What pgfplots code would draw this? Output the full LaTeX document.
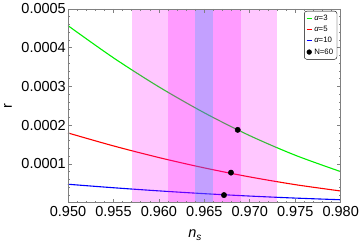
\documentclass[border=0pt]{standalone}
\usepackage{fontspec}
\setmainfont{Liberation Sans}
\usepackage{pgfplots}
\pgfplotsset{compat=1.18}
\definecolor{bandblue}{RGB}{0,176,255}
\definecolor{bandmag}{RGB}{255,0,255}
\definecolor{cgreen}{RGB}{0,240,0}
\definecolor{cred}{RGB}{255,0,0}
\definecolor{cblue}{RGB}{0,0,255}
\begin{document}
\begin{tikzpicture}
\useasboundingbox (-68pt,-42.3pt) rectangle (292pt,202.7pt);
\begin{axis}[
  at={(0,0)}, anchor=south west,
  scale only axis, width=272.7pt, height=193.7pt,
  xmin=0.95, xmax=0.98, ymin=0, ymax=0.0005,
  axis on top,
  tick align=inside,
  major tick length=4pt, minor tick length=2pt,
  axis line style={black!50, line width=0.9pt},
  every tick/.style={black!50, line width=0.6pt},
  scaled x ticks=false, scaled y ticks=false,
  xtick={0.95,0.955,0.96,0.965,0.97,0.975,0.98},
  minor xtick={0.951,0.952,0.953,0.954,0.956,0.957,0.958,0.959,0.961,0.962,0.963,0.964,0.966,0.967,0.968,0.969,0.971,0.972,0.973,0.974,0.976,0.977,0.978,0.979},
  ytick={0.0001,0.0002,0.0003,0.0004,0.0005},
  minor ytick={0.00002,0.00004,0.00006,0.00008,0.00012,0.00014,0.00016,0.00018,0.00022,0.00024,0.00026,0.00028,0.00032,0.00034,0.00036,0.00038,0.00042,0.00044,0.00046,0.00048},
  xticklabel={\pgfmathprintnumber[fixed,fixed zerofill,precision=3,assume math mode=true]{\tick}},
  yticklabel={\pgfmathprintnumber[fixed,fixed zerofill,precision=4,assume math mode=true]{\tick}},
  tick label style={font=\fontsize{14.5}{16}\selectfont, black},
  x tick label style={inner sep=3pt},
  y tick label style={inner sep=2pt},
  xlabel={\fontsize{14.5}{16}\selectfont\itshape n\raisebox{-0.25em}{\fontsize{10}{11}\selectfont s}},
  ylabel={\fontsize{14.5}{16}\selectfont r},
  xlabel style={at={(axis description cs:0.465,0)}, anchor=center, yshift=-32.3pt},
  ylabel style={at={(axis description cs:-0.22,0.5)}, anchor=center},
  legend style={at={(0.987,0.99)}, anchor=north east, draw=black, rounded corners=2.5pt,
    font=\fontsize{7.8}{8.5}\selectfont, inner sep=1.8pt, row sep=0.3pt, fill=white},
  legend cell align=left,
  legend image code/.code={\draw[#1, line width=1pt] (0cm,0cm) -- (0.18cm,0cm);},
]
\addplot[cgreen, line width=1.1pt, smooth] coordinates {
(0.950,0.000457) (0.955,0.000374) (0.960,0.000299) (0.965,0.000232) (0.970,0.000173) (0.975,0.0001225) (0.980,0.0000802)};
\addlegendentry{{\itshape α}=3}
\addplot[cred, line width=1.1pt, smooth] coordinates {
(0.950,0.000180) (0.955,0.0001466) (0.960,0.0001165) (0.965,0.0000898) (0.970,0.0000665) (0.975,0.0000466) (0.980,0.0000302)};
\addlegendentry{{\itshape α}=5}
\addplot[cblue, line width=1.1pt, smooth] coordinates {
(0.950,0.0000476) (0.955,0.0000386) (0.960,0.0000305) (0.965,0.0000233) (0.970,0.0000171) (0.975,0.0000119) (0.980,0.0000076)};
\addlegendentry{{\itshape α}=10}
\addplot[only marks, mark=*, mark size=2.7pt, black, legend image code/.code={\fill[black] (0.09cm,0cm) circle (2.4pt);}] coordinates {
(0.96867,0.000188) (0.96793,0.0000776) (0.96716,0.0000197)};
\addlegendentry{N=60}
\addplot[draw=none, fill=bandmag, fill opacity=0.22, forget plot] coordinates {(0.957,0.0005) (0.973,0.0005)} \closedcycle;
\addplot[draw=none, fill=bandmag, fill opacity=0.22, forget plot] coordinates {(0.961,0.0005) (0.969,0.0005)} \closedcycle;
\addplot[draw=none, fill=bandblue, fill opacity=0.235, forget plot] coordinates {(0.964,0.0005) (0.966,0.0005)} \closedcycle;
\end{axis}
\end{tikzpicture}
\end{document}
